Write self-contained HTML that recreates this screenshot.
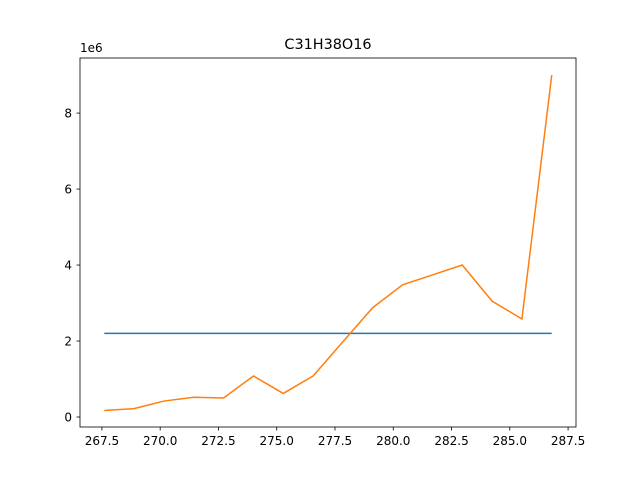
<!DOCTYPE html>
<html><head><meta charset="utf-8"><style>
body{margin:0;background:#fff;}
svg{display:block;font-family:"DejaVu Sans","Liberation Sans",sans-serif;}
</style></head><body>
<svg id="chart" width="640" height="480"></svg>
<script>
const xValues=[267.6,268.88,270.16,271.44,272.72,274.0,275.28,276.56,277.84,279.12,280.4,281.68,282.96,284.24,285.52,286.8];
const orangeValues=[0.17,0.22,0.42,0.52,0.50,1.08,0.62,1.08,1.98,2.88,3.48,3.74,4.0,3.05,2.58,9.0];
const blueValues=[2.2,2.2,2.2,2.2,2.2,2.2,2.2,2.2,2.2,2.2,2.2,2.2,2.2,2.2,2.2,2.2];
const xTicks=[267.5,270,272.5,275,277.5,280,282.5,285,287.5];
const yTicks=[0,2,4,6,8];
const L=80,R=576,T=58,B=427;
const xmin=266.56,xmax=287.84,ymin=-0.263,ymax=9.45;
const sx=v=>L+(v-xmin)/(xmax-xmin)*(R-L);
const sy=v=>B-(v-ymin)/(ymax-ymin)*(B-T);
const svg=document.getElementById('chart');
const NS='http://www.w3.org/2000/svg';
function mk(tag,attrs,parent){const e=document.createElementNS(NS,tag);for(const k in attrs)e.setAttribute(k,attrs[k]);(parent||svg).appendChild(e);return e;}
function line(vals,color,name){
  const p=mk('polyline',{points:xValues.map((x,i)=>sx(x)+','+sy(vals[i])).join(' '),fill:'none',stroke:color,'stroke-width':1.5});
  
  
}
line(blueValues,'#1f77b4','series-blue-line');
line(orangeValues,'#ff7f0e','series-orange-line');
const frame=mk('rect',{x:L,y:T,width:R-L,height:B-T,fill:'none',stroke:'#000','stroke-width':0.8});


xTicks.forEach(t=>{
  const x=sx(t);
  mk('line',{x1:x,x2:x,y1:B,y2:B+3.5,stroke:'#000','stroke-width':0.8});
  const tx=mk('text',{x:x,y:B+18,'text-anchor':'middle','font-size':12});
  tx.textContent=t.toFixed(1);
  
  
});
yTicks.forEach(t=>{
  const y=sy(t);
  mk('line',{x1:L,x2:L-3.5,y1:y,y2:y,stroke:'#000','stroke-width':0.8});
  const tx=mk('text',{x:L-8,y:y+4.5,'text-anchor':'end','font-size':12});
  tx.textContent=t;
  
  
});
const off=mk('text',{x:L,y:T-6,'font-size':12});
off.textContent='1e6';


const title=mk('text',{x:(L+R)/2,y:T-9,'text-anchor':'middle','font-size':14.4});
title.textContent='C31H38O16';


</script>
</body></html>
